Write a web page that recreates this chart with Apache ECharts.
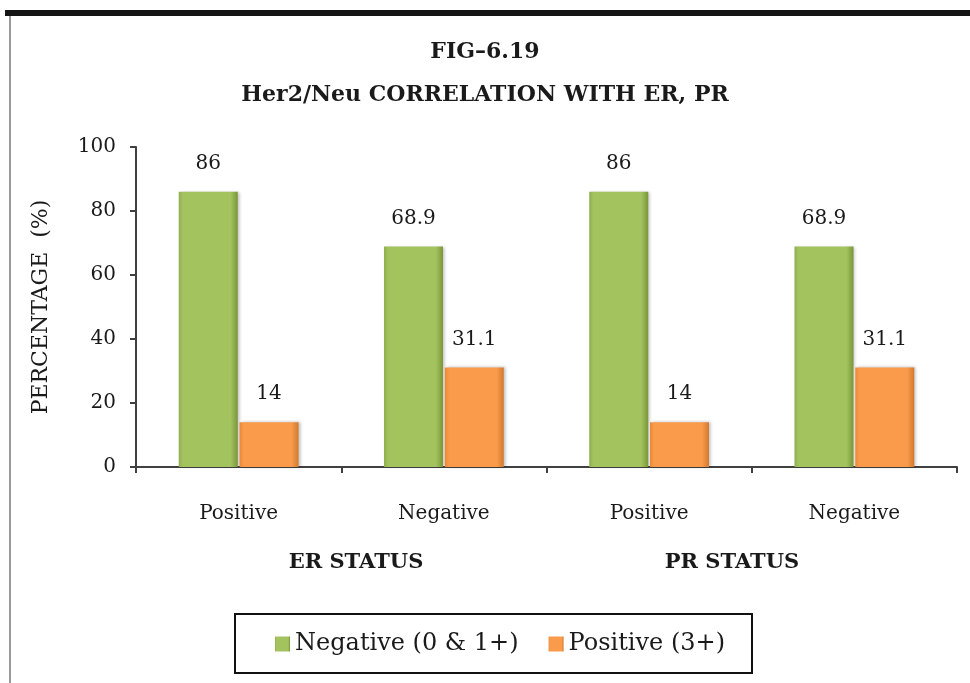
<!DOCTYPE html>
<html>
<head>
<meta charset="utf-8">
<style>
  html, body { margin: 0; padding: 0; background: #fff; }
  #chart { width: 970px; height: 683px; }
</style>
<script src="https://cdn.jsdelivr.net/npm/echarts@6/dist/echarts.min.js"></script>
</head>
<body>
<div id="chart"></div>
<script>
// categories on the x axis, and the two status groups under them
const categories = ['Positive', 'Negative', 'Positive', 'Negative'];
const groupLabels = ['ER STATUS', 'PR STATUS'];
const seriesNames = ['Negative (0 & 1+)', 'Positive (3+)'];
const negativeValues = [86, 68.9, 86, 68.9];
const positiveValues = [14, 31.1, 14, 31.1];
const yTicks = [0, 20, 40, 60, 80, 100];

const FONT = '"DejaVu Serif", serif';
const TEXT = '#1a1a1a';

// bevelled look of the Excel bars, done as a horizontal gradient
const barFill = (dark, mid, edge) => ({
  type: 'linear', x: 0, y: 0, x2: 1, y2: 0,
  colorStops: [
    { offset: 0, color: edge },
    { offset: 0.07, color: mid },
    { offset: 0.88, color: mid },
    { offset: 1, color: dark },
  ],
});

const chart = echarts.init(document.getElementById('chart'));

const option = {
  backgroundColor: '#fff',
  animation: false,
  title: {
    text: 'FIG–6.19\nHer2/Neu CORRELATION WITH ER, PR',
    left: 'center',
    top: 26,
    textStyle: {
      fontFamily: FONT,
      fontWeight: 'bold',
      fontSize: 22,
      lineHeight: 43,
      color: TEXT,
    },
  },
  grid: { left: 136, right: 13, top: 147, bottom: 216 },
  legend: {
    data: seriesNames,
    left: 275,
    top: 632,
    padding: 0,
    itemWidth: 15,
    itemHeight: 15,
    itemGap: 30,
    icon: 'rect',
    textStyle: { fontFamily: FONT, fontSize: 24, color: TEXT, padding: [0, 0, 0, 0] },
  },
  xAxis: {
    type: 'category',
    data: categories,
    axisLine: { lineStyle: { color: '#404040', width: 2 } },
    axisTick: { show: true, length: 6, lineStyle: { color: '#404040', width: 2 } },
    axisLabel: { fontFamily: FONT, fontSize: 20, color: TEXT, margin: 37 },
  },
  yAxis: {
    type: 'value',
    min: yTicks[0],
    max: yTicks[yTicks.length - 1],
    interval: yTicks[1] - yTicks[0],
    name: 'PERCENTAGE  (%)',
    nameLocation: 'middle',
    nameRotate: 90,
    nameGap: 84,
    nameTextStyle: { fontFamily: FONT, fontSize: 22, color: TEXT },
    axisLine: { show: true, lineStyle: { color: '#404040', width: 2 } },
    axisTick: { show: true, length: 6, lineStyle: { color: '#404040', width: 2 } },
    splitLine: { show: false },
    axisLabel: { fontFamily: FONT, fontSize: 20, color: TEXT, margin: 20 },
  },
  series: [
    {
      name: seriesNames[0],
      type: 'bar',
      data: negativeValues,
      barWidth: 59,
      barGap: '3%',
      color: '#9BBB59',
      itemStyle: {
        color: barFill('#7a9638', '#a3c35f', '#8fae4c'),
        shadowColor: 'rgba(0,0,0,0.25)',
        shadowBlur: 3,
        shadowOffsetX: 2,
      },
      label: {
        show: true,
        position: 'top',
        distance: 18,
        fontFamily: FONT,
        fontSize: 20,
        color: TEXT,
      },
    },
    {
      name: seriesNames[1],
      type: 'bar',
      data: positiveValues,
      barWidth: 59,
      barGap: '3%',
      color: '#F79646',
      itemStyle: {
        color: barFill('#d27a2e', '#f99b4a', '#e88838'),
        shadowColor: 'rgba(0,0,0,0.25)',
        shadowBlur: 3,
        shadowOffsetX: 2,
      },
      label: {
        show: true,
        position: 'top',
        distance: 18,
        fontFamily: FONT,
        fontSize: 20,
        color: TEXT,
      },
    },
  ],
  graphic: [
    // frame of the figure: heavy rule on top, thin grey rule on the left
    { type: 'rect', shape: { x: 5, y: 10, width: 965, height: 6 }, style: { fill: '#151515' } },
    { type: 'rect', shape: { x: 9, y: 16, width: 2, height: 667 }, style: { fill: '#9a9a9a' } },
    // legend box
    {
      type: 'rect',
      shape: { x: 235, y: 614, width: 517, height: 59 },
      style: { fill: 'none', stroke: '#111', lineWidth: 2 },
    },
    // group labels under the categories
    {
      type: 'text', x: 356, y: 563,
      style: {
        text: groupLabels[0], fontFamily: FONT, fontWeight: 'bold', fontSize: 21,
        fill: TEXT, align: 'center', verticalAlign: 'middle',
      },
    },
    {
      type: 'text', x: 732, y: 563,
      style: {
        text: groupLabels[1], fontFamily: FONT, fontWeight: 'bold', fontSize: 21,
        fill: TEXT, align: 'center', verticalAlign: 'middle',
      },
    },
  ],
};

chart.setOption(option);
</script>
</body>
</html>
